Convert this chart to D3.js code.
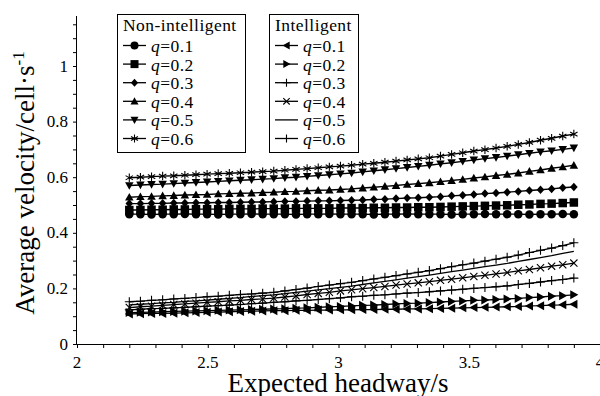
<!DOCTYPE html>
<html><head><meta charset="utf-8">
<script src="https://cdn.jsdelivr.net/npm/d3@7"></script>
<style>body{margin:0;background:#fff}svg{display:block}</style>
</head><body><svg id="c" width="600" height="396"></svg>
<script>
const headway = [2.2,2.2425,2.285,2.3275,2.37,2.4125,2.455,2.4975,2.54,2.5825,2.625,2.6675,2.71,2.7525,2.795,2.8375,2.88,2.9225,2.965,3.0075,3.05,3.0925,3.135,3.1775,3.22,3.2625,3.305,3.3475,3.39,3.4325,3.475,3.5175,3.56,3.6025,3.645,3.6875,3.73,3.7725,3.815,3.8575,3.9];
const nonInt01 = [0.467,0.467,0.466,0.467,0.467,0.468,0.467,0.467,0.466,0.467,0.467,0.468,0.467,0.467,0.467,0.466,0.467,0.467,0.468,0.467,0.467,0.467,0.466,0.467,0.467,0.468,0.467,0.467,0.467,0.466,0.467,0.467,0.468,0.467,0.467,0.467,0.466,0.467,0.467,0.468,0.467];
const nonInt02 = [0.482,0.482,0.483,0.483,0.484,0.484,0.485,0.485,0.485,0.486,0.486,0.486,0.487,0.487,0.487,0.488,0.488,0.488,0.488,0.489,0.489,0.489,0.490,0.490,0.491,0.491,0.492,0.492,0.493,0.494,0.495,0.496,0.497,0.498,0.499,0.501,0.502,0.504,0.505,0.507,0.509];
const nonInt03 = [0.505,0.505,0.506,0.506,0.507,0.507,0.508,0.508,0.509,0.509,0.510,0.511,0.511,0.512,0.513,0.513,0.514,0.515,0.515,0.516,0.517,0.518,0.520,0.521,0.523,0.525,0.526,0.528,0.530,0.533,0.535,0.538,0.541,0.543,0.546,0.549,0.552,0.555,0.558,0.562,0.565];
const nonInt04 = [0.528,0.530,0.531,0.533,0.534,0.536,0.537,0.538,0.540,0.541,0.542,0.543,0.545,0.546,0.548,0.549,0.551,0.553,0.554,0.556,0.558,0.561,0.564,0.567,0.570,0.574,0.577,0.580,0.584,0.588,0.592,0.597,0.601,0.606,0.610,0.615,0.621,0.626,0.632,0.637,0.643];
const nonInt05 = [0.570,0.572,0.574,0.575,0.577,0.579,0.581,0.583,0.585,0.587,0.589,0.591,0.593,0.595,0.598,0.600,0.603,0.606,0.609,0.612,0.615,0.619,0.623,0.627,0.631,0.635,0.639,0.643,0.648,0.652,0.657,0.662,0.667,0.671,0.676,0.681,0.686,0.691,0.695,0.700,0.705];
const nonInt06 = [0.598,0.600,0.602,0.604,0.605,0.607,0.609,0.611,0.613,0.614,0.616,0.618,0.620,0.622,0.625,0.628,0.631,0.634,0.637,0.640,0.643,0.647,0.650,0.654,0.658,0.662,0.666,0.670,0.676,0.682,0.688,0.694,0.699,0.705,0.711,0.718,0.725,0.733,0.740,0.748,0.755];
const int01 = [0.108,0.109,0.110,0.110,0.111,0.112,0.113,0.114,0.115,0.116,0.117,0.118,0.119,0.120,0.120,0.121,0.121,0.122,0.122,0.123,0.123,0.124,0.124,0.125,0.125,0.126,0.126,0.127,0.128,0.129,0.130,0.131,0.132,0.133,0.134,0.135,0.137,0.138,0.140,0.141,0.143];
const int02 = [0.113,0.114,0.115,0.116,0.117,0.118,0.119,0.120,0.121,0.122,0.123,0.124,0.125,0.126,0.127,0.129,0.130,0.132,0.134,0.135,0.137,0.139,0.140,0.142,0.144,0.146,0.147,0.149,0.151,0.153,0.155,0.157,0.158,0.160,0.162,0.164,0.167,0.169,0.172,0.174,0.177];
const int03 = [0.123,0.125,0.127,0.128,0.130,0.132,0.134,0.136,0.138,0.140,0.142,0.145,0.147,0.150,0.152,0.155,0.157,0.160,0.163,0.166,0.170,0.172,0.175,0.177,0.180,0.183,0.185,0.188,0.191,0.194,0.197,0.200,0.203,0.206,0.209,0.214,0.218,0.223,0.228,0.232,0.237];
const int04 = [0.131,0.134,0.136,0.139,0.142,0.144,0.147,0.150,0.152,0.155,0.157,0.160,0.162,0.165,0.169,0.173,0.178,0.182,0.186,0.191,0.195,0.199,0.203,0.207,0.212,0.216,0.220,0.224,0.229,0.233,0.238,0.243,0.247,0.252,0.257,0.263,0.268,0.274,0.280,0.285,0.291];
const int05 = [0.141,0.143,0.145,0.148,0.150,0.153,0.155,0.158,0.161,0.164,0.167,0.171,0.174,0.177,0.181,0.186,0.190,0.195,0.199,0.204,0.208,0.214,0.220,0.225,0.231,0.237,0.242,0.248,0.254,0.260,0.266,0.272,0.278,0.284,0.290,0.297,0.304,0.311,0.318,0.326,0.333];
const int06 = [0.152,0.154,0.157,0.159,0.162,0.164,0.167,0.170,0.172,0.175,0.178,0.180,0.183,0.186,0.191,0.196,0.201,0.207,0.212,0.217,0.222,0.228,0.234,0.240,0.246,0.252,0.258,0.264,0.271,0.278,0.285,0.291,0.298,0.305,0.312,0.320,0.329,0.337,0.345,0.354,0.364];
const qLabels = ["0.1","0.2","0.3","0.4","0.5","0.6"];
const xMajor = [2,2.5,3,3.5,4];
const yMajor = [0,0.2,0.4,0.6,0.8,1];

const nonSeries = [nonInt01,nonInt02,nonInt03,nonInt04,nonInt05,nonInt06];
const nonMarkers = ["circle","square","diamond","triUp","triDown","asterisk"];
const intSeries = [int01,int02,int03,int04,int05,int06];
const intMarkers = ["triLeft","triRight","plus","cross","none","plus"];

const FONT = "'Liberation Serif'";
const svg = d3.select("#c");
const x = d3.scaleLinear().domain([2,4]).range([77,600]);
const y = d3.scaleLinear().domain([0,1]).range([344,66]);

const xMinor = d3.range(0,21).map(i=>2+i*0.1);
const yMinor = d3.range(0,24).map(i=>i*0.05);
const isMaj = (v,arr)=>arr.some(m=>Math.abs(m-v)<1e-6);

// axes: ticks via d3 axis, labels as plain text elements
const gx = svg.append("g").attr("transform","translate(0,344)")
  .call(d3.axisBottom(x).tickValues(xMinor).tickSize(4).tickFormat(""));
const gy = svg.append("g").attr("transform","translate(77,0)")
  .call(d3.axisLeft(y).tickValues(yMinor).tickSize(4).tickFormat(""));
[gx,gy].forEach(g=>{
  g.attr("font-family",null).attr("font-size",null);
  g.select(".domain").attr("stroke","#000").attr("stroke-width",1);
  g.selectAll(".tick line").attr("stroke","#000");
  g.selectAll(".tick text").remove();
});
gx.select(".domain").attr("d","M77,0.5H600");
gy.select(".domain").attr("d",`M-0.5,${y(0)}V16`);

svg.append("g").selectAll("text").data(xMajor).join("text")
  .attr("x",d=>x(d)).attr("y",368).attr("text-anchor","middle")
  .style("font-family",FONT).style("font-size","17px").text(d=>d3.format("~g")(d));
svg.append("g").selectAll("text").data(yMajor).join("text")
  .attr("x",68).attr("y",d=>y(d)+5.5).attr("text-anchor","end")
  .style("font-family",FONT).style("font-size","17px").text(d=>d3.format("~g")(d));

function drawMarker(g, type, cx, cy, s){
  const r = s/2;
  if(type==="circle"){ g.append("circle").attr("cx",cx).attr("cy",cy).attr("r",r).attr("fill","#000"); }
  else if(type==="square"){ g.append("rect").attr("x",cx-r).attr("y",cy-r).attr("width",s).attr("height",s).attr("fill","#000"); }
  else if(type==="diamond"){ g.append("path").attr("d",`M${cx},${cy-r}L${cx+r*0.9},${cy}L${cx},${cy+r}L${cx-r*0.9},${cy}Z`).attr("fill","#000"); }
  else if(type==="triUp"){ g.append("path").attr("d",`M${cx},${cy-r}L${cx+r},${cy+r*0.8}L${cx-r},${cy+r*0.8}Z`).attr("fill","#000"); }
  else if(type==="triDown"){ g.append("path").attr("d",`M${cx},${cy+r}L${cx+r},${cy-r*0.8}L${cx-r},${cy-r*0.8}Z`).attr("fill","#000"); }
  else if(type==="triLeft"){ g.append("path").attr("d",`M${cx-r},${cy}L${cx+r*0.8},${cy-r}L${cx+r*0.8},${cy+r}Z`).attr("fill","#000"); }
  else if(type==="triRight"){ g.append("path").attr("d",`M${cx+r},${cy}L${cx-r*0.8},${cy-r}L${cx-r*0.8},${cy+r}Z`).attr("fill","#000"); }
  else if(type==="asterisk"){
    const a = r*0.87, b=r*0.5;
    g.append("path").attr("d",`M${cx},${cy-r}V${cy+r}M${cx-a},${cy-b}L${cx+a},${cy+b}M${cx-a},${cy+b}L${cx+a},${cy-b}`).attr("stroke","#000").attr("stroke-width",1.1).attr("fill","none");
  }
  else if(type==="plus"){ g.append("path").attr("d",`M${cx},${cy-r}V${cy+r}M${cx-r},${cy}H${cx+r}`).attr("stroke","#000").attr("stroke-width",1.1).attr("fill","none"); }
  else if(type==="cross"){ const c=r*0.8; g.append("path").attr("d",`M${cx-c},${cy-c}L${cx+c},${cy+c}M${cx-c},${cy+c}L${cx+c},${cy-c}`).attr("stroke","#000").attr("stroke-width",1.1).attr("fill","none"); }
}

const line = d3.line().x((d,i)=>x(headway[i])).y(d=>y(d));
const plot = svg.append("g");
nonSeries.forEach((s,k)=>{
  plot.append("path").datum(s).attr("d",line).attr("fill","none").attr("stroke","#000").attr("stroke-width",1.4);
  const mg = plot.append("g");
  s.forEach((v,i)=>drawMarker(mg,nonMarkers[k],x(headway[i]),y(v),8.5));
});
intSeries.forEach((s,k)=>{
  plot.append("path").datum(s).attr("d",line).attr("fill","none").attr("stroke","#000").attr("stroke-width",1.3);
  const mg = plot.append("g");
  if(intMarkers[k]!=="none") s.forEach((v,i)=>drawMarker(mg,intMarkers[k],x(headway[i]),y(v),9));
});

function legend(x0, w, title, markers){
  const g = svg.append("g");
  g.append("rect").attr("x",x0+0.5).attr("y",14.5).attr("width",w).attr("height",138).attr("fill","#fff").attr("stroke","#000").attr("stroke-width",1);
  g.append("text").attr("x",x0+6).attr("y",31).style("font-family",FONT).style("font-size","17.5px").style("letter-spacing","0.45px").text(title);
  markers.forEach((m,i)=>{
    const cy = 45.5 + i*18.6;
    g.append("line").attr("x1",x0+6).attr("x2",x0+29).attr("y1",cy).attr("y2",cy).attr("stroke","#000").attr("stroke-width",1.3);
    if(m!=="none") drawMarker(g,m,x0+17.5,cy,8);
    const t = g.append("text").attr("x",x0+34).attr("y",cy+6.5).style("font-family",FONT).style("font-size","17.5px").style("letter-spacing","0.45px");
    t.append("tspan").style("font-style","italic").text("q");
    t.append("tspan").text("="+qLabels[i]);
  });
}
legend(117,128,"Non-intelligent",nonMarkers);
legend(269,89,"Intelligent",intMarkers);

const yt = svg.append("text").attr("transform","translate(34,183) rotate(-90)").attr("text-anchor","middle").style("font-family",FONT).style("font-size","27px");
yt.append("tspan").text("Average velocity/cell·s");
yt.append("tspan").attr("dy","-10").style("font-size","17px").text("-1");
svg.append("text").attr("x",338).attr("y",392).attr("text-anchor","middle").style("font-family",FONT).style("font-size","27px").text("Expected headway/s");
</script></body></html>
